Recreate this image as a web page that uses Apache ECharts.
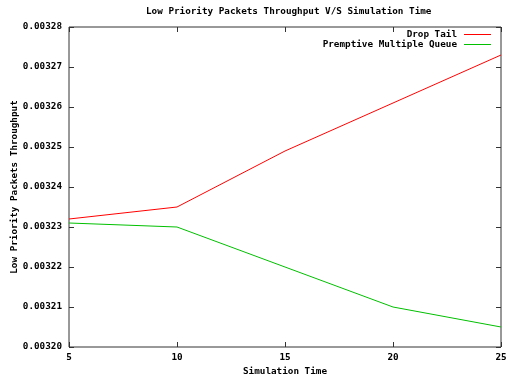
<!DOCTYPE html>
<html><head><meta charset="utf-8">
<script src="https://cdn.jsdelivr.net/npm/echarts@6/dist/echarts.min.js"></script>
<style>html,body{margin:0;padding:0;background:#fff}#c{width:511px;height:383px}</style>
</head><body><div id="c"></div>
<script>
const xValues = [5, 10, 15, 20, 25];
const dropTail = [0.003232, 0.003235, 0.003249, 0.003261, 0.003273];
const pmq = [0.003231, 0.003230, 0.003220, 0.003210, 0.003205];
const seriesNames = ['Drop Tail', 'Premptive Multiple Queue'];
const titleText = 'Low Priority Packets Throughput V/S Simulation Time';
const xName = 'Simulation Time';
const yName = 'Low Priority Packets Throughput';

const FONT = 'DejaVu Sans Mono';
const FS = 9.3;
const txt = {fontFamily: FONT, fontSize: FS, fontWeight: 'bold', color: '#000'};

const chart = echarts.init(document.getElementById('c'), null, {renderer: 'canvas'});
const baseX = {type: 'value', min: 5, max: 25, interval: 5};
const baseY = {type: 'value', min: 0.0032, max: 0.00328, interval: 0.00001};
const legendCommon = {
  orient: 'vertical', align: 'right', right: 20, itemWidth: 27, itemHeight: 1,
  icon: 'rect', itemGap: 0, padding: 0, textStyle: Object.assign({}, txt, {padding: [0, 2, 0, 0]})
};
chart.setOption({
  animation: false,
  title: {text: titleText, left: 141, top: 2, textStyle: txt},
  legend: [
    Object.assign({}, legendCommon, {top: 30, data: [seriesNames[0]]}),
    Object.assign({}, legendCommon, {top: 40, data: [seriesNames[1]]})
  ],
  grid: {left: 69, right: 10, top: 27, bottom: 36, show: true, borderColor: '#333', borderWidth: 1,
         containLabel: false, outerBoundsMode: 'none'},
  xAxis: [
    Object.assign({}, baseX, {
      position: 'bottom', name: xName, nameLocation: 'middle', nameGap: 20, nameTextStyle: txt,
      nameMoveOverlap: false,
      axisLine: {show: false}, splitLine: {show: false},
      axisTick: {inside: true, length: 5, lineStyle: {color: '#333'}},
      axisLabel: Object.assign({}, txt, {margin: 6})
    }),
    Object.assign({}, baseX, {
      position: 'top', axisLine: {show: false}, splitLine: {show: false},
      axisTick: {inside: true, length: 5, lineStyle: {color: '#333'}}, axisLabel: {show: false}
    })
  ],
  yAxis: [
    Object.assign({}, baseY, {
      position: 'left', name: yName, nameLocation: 'middle', nameGap: 50, nameTextStyle: txt,
      nameMoveOverlap: false,
      axisLine: {show: false}, splitLine: {show: false},
      axisTick: {inside: true, length: 5, lineStyle: {color: '#333'}},
      axisLabel: Object.assign({}, txt, {margin: 7, formatter: v => v.toFixed(5)})
    }),
    Object.assign({}, baseY, {
      position: 'right', axisLine: {show: false}, splitLine: {show: false},
      axisTick: {inside: true, length: 5, lineStyle: {color: '#333'}}, axisLabel: {show: false}
    })
  ],
  series: [
    {name: seriesNames[0], type: 'line', data: xValues.map((x, i) => [x, dropTail[i]]),
     symbol: 'none', lineStyle: {color: '#ff0000', width: 1}, itemStyle: {color: '#ff0000'}},
    {name: seriesNames[1], type: 'line', data: xValues.map((x, i) => [x, pmq[i]]),
     symbol: 'none', lineStyle: {color: '#00c000', width: 1}, itemStyle: {color: '#00c000'}}
  ]
});
</script></body></html>
